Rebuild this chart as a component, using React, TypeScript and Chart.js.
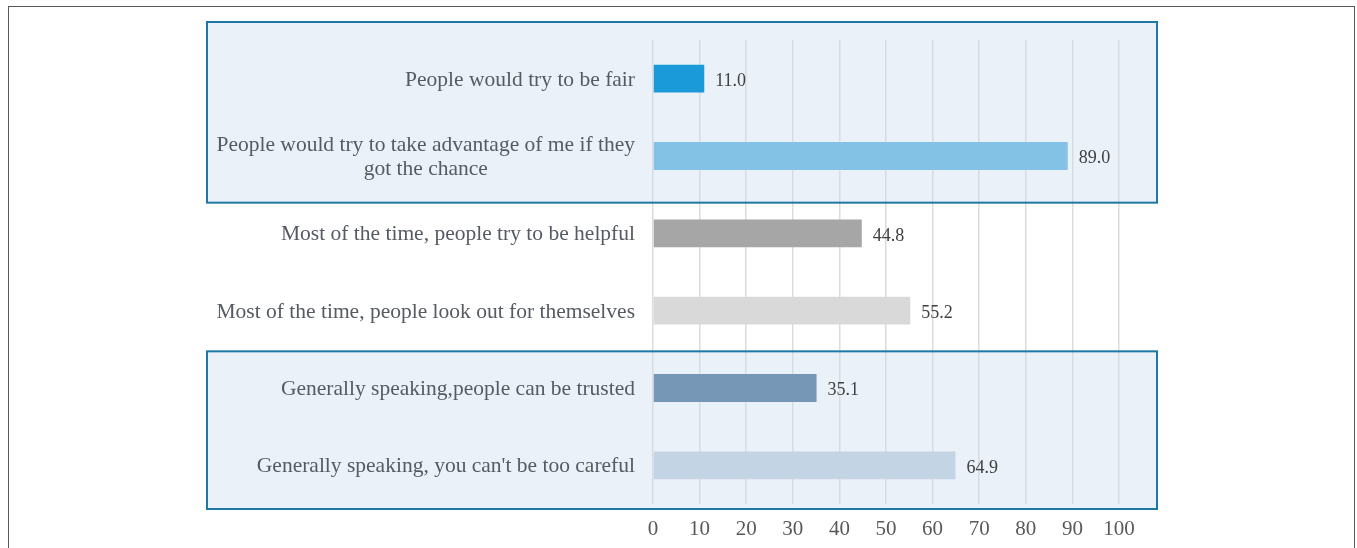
import React, { useEffect, useRef } from "react";
import { Chart, registerables } from "chart.js";

Chart.register(...registerables);

const categories: (string | string[])[] = [
  "People would try to be fair",
  ["People would try to take advantage of me if they", "got the chance"],
  "Most of the time, people try to be helpful",
  "Most of the time, people look out for themselves",
  "Generally speaking,people can be trusted",
  "Generally speaking, you can't be too careful",
];
const values: number[] = [11.0, 89.0, 44.8, 55.2, 35.1, 64.9];
const barColors: string[] = ["#1a9ad8", "#83c1e5", "#a6a6a6", "#d9d9d9", "#7698b6", "#c3d4e5"];
const xTicks: number[] = [0, 10, 20, 30, 40, 50, 60, 70, 80, 90, 100];
// highlighted groups: [first category index, last category index]
const boxGroups: [number, number][] = [
  [0, 1],
  [4, 5],
];

const FONT = '"Liberation Serif", "Times New Roman", serif';

function boxGeom(chartArea: any, y: any, band: number, a: number, b: number, gi: number) {
  const x0 = chartArea.left - 446;
  const x1 = chartArea.right + 38;
  const topEdge = y.getPixelForValue(a) - band / 2;
  const botEdge = y.getPixelForValue(b) + band / 2;
  const t = gi === 0 ? topEdge - 18 : topEdge + 2;
  const bt = gi === 0 ? botEdge + 8 : botEdge + 5;
  return { x0, x1, t, bt };
}

const boxPlugin = {
  id: "boxes",
  beforeDraw(chart: any) {
    const { ctx, chartArea, scales } = chart;
    const y = scales.y;
    const band = y.getPixelForValue(1) - y.getPixelForValue(0);
    ctx.save();
    boxGroups.forEach(([a, b], gi) => {
      const { x0, x1, t, bt } = boxGeom(chartArea, y, band, a, b, gi);
      ctx.fillStyle = "#eaf1f9";
      ctx.fillRect(x0, t, x1 - x0, bt - t);
    });
    ctx.restore();
  },
  beforeDatasetsDraw(chart: any) {
    const { ctx, chartArea, scales } = chart;
    const y = scales.y;
    const band = y.getPixelForValue(1) - y.getPixelForValue(0);
    ctx.save();
    boxGroups.forEach(([a, b], gi) => {
      const { x0, x1, t, bt } = boxGeom(chartArea, y, band, a, b, gi);
      ctx.strokeStyle = "#1f78a2";
      ctx.lineWidth = 2;
      ctx.strokeRect(x0, t, x1 - x0, bt - t);
    });
    ctx.restore();
  },
  afterDatasetsDraw(chart: any) {
    const { ctx, chartArea, scales } = chart;
    const y = scales.y;
    const x = scales.x;
    ctx.save();
    // category labels
    ctx.font = `21.5px ${FONT}`;
    ctx.fillStyle = "#555a63";
    ctx.textBaseline = "middle";
    ctx.textAlign = "center";
    categories.forEach((lab, i) => {
      const lines = Array.isArray(lab) ? lab : [lab];
      const widest = Math.max(...lines.map((l) => ctx.measureText(l).width));
      const right = chartArea.left - 18;
      const cx = right - widest / 2;
      const cy = y.getPixelForValue(i) + 1.5;
      const lh = 24;
      lines.forEach((l, k) => {
        ctx.fillText(l, cx, cy + (k - (lines.length - 1) / 2) * lh);
      });
    });
    // value labels
    ctx.font = `18px ${FONT}`;
    ctx.fillStyle = "#404040";
    ctx.textAlign = "left";
    values.forEach((v, i) => {
      ctx.fillText(v.toFixed(1), x.getPixelForValue(v) + 11, y.getPixelForValue(i) + 2.5);
    });
    ctx.restore();
  },
};

export default function App() {
  const ref = useRef<HTMLCanvasElement>(null);
  useEffect(() => {
    if (!ref.current) return;
    const chart = new Chart(ref.current, {
      type: "bar",
      data: {
        labels: categories.map((c) => (Array.isArray(c) ? c.join(" ") : c)),
        datasets: [
          {
            data: values,
            backgroundColor: barColors,
            borderWidth: 0,
            barPercentage: 0.36,
            categoryPercentage: 1,
          },
        ],
      },
      options: {
        indexAxis: "y",
        animation: false,
        responsive: false,
        events: [],
        layout: { padding: { left: 0, right: 238, top: 40, bottom: 0 } },
        plugins: { legend: { display: false }, tooltip: { enabled: false } },
        scales: {
          x: {
            min: 0,
            max: 100,
            afterBuildTicks: (s: any) => {
              s.ticks = xTicks.map((v) => ({ value: v }));
            },
            afterFit: (s: any) => {
              s.height = 44;
            },
            grid: { color: "#d8dbe0", lineWidth: 1.5, drawTicks: false },
            border: { display: false },
            ticks: {
              padding: 13,
              color: "#595959",
              font: { family: FONT, size: 21 },
            },
          },
          y: {
            afterFit: (s: any) => {
              s.width = 653;
            },
            grid: { display: false },
            border: { display: false },
            ticks: { display: false },
          },
        },
      },
      plugins: [boxPlugin],
    } as any);
    return () => chart.destroy();
  }, []);
  return (
    <div style={{ position: "absolute", left: 0, top: 0, width: 1357, height: 548, overflow: "hidden", background: "#fff" }}>
      <div
        style={{
          position: "absolute",
          left: 8,
          top: 6,
          width: 1347,
          height: 560,
          border: "1.5px solid #5a5a5a",
          boxSizing: "border-box",
        }}
      />
      <canvas ref={ref} width={1357} height={548} style={{ position: "absolute", left: 0, top: 0 }} />
    </div>
  );
}
